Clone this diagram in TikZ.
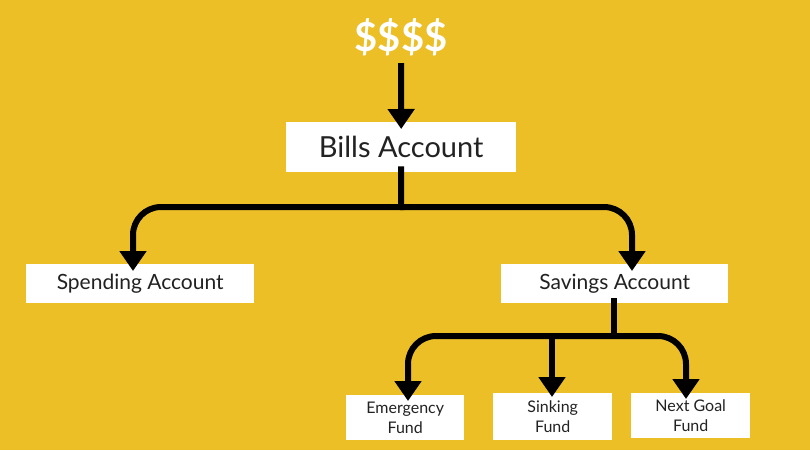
\documentclass[tikz,border=0pt]{standalone}
\usepackage{fontspec}
\setmainfont{Lato}
\usetikzlibrary{arrows.meta}
\definecolor{bg}{HTML}{EDBF27}
\definecolor{ink}{HTML}{222222}
\begin{document}
\begin{tikzpicture}[x=1pt,y=-1pt,
  box/.style={fill=white,text=ink,inner sep=0pt,anchor=north west},
  conn/.style={line width=6pt,black,-{Triangle[width=26pt,length=20pt]},rounded corners=28pt},
  bar/.style={line width=6pt,black}]
\fill[bg] (0,0) rectangle (810,450);
\useasboundingbox (0,0) rectangle (810,450);
\node[text=white,font=\bfseries\fontsize{40}{40}\selectfont] (money) at (401,37) {\$\$\$\$};
\node[box,minimum width=230pt,minimum height=50pt,font=\fontsize{29}{30}\selectfont] (bills) at (286,122) {Bills Account};
\node[box,minimum width=228pt,minimum height=39pt,font=\fontsize{21}{22}\selectfont] (spend) at (26,264) {Spending Account};
\node[box,minimum width=227pt,minimum height=39pt,font=\fontsize{21}{22}\selectfont] (save) at (501,264) {Savings Account};
\node[box,minimum width=118pt,minimum height=45pt,align=center,font=\fontsize{16}{20}\selectfont] (emer) at (346,395) {Emergency\\Fund};
\node[box,minimum width=119pt,minimum height=47pt,align=center,font=\fontsize{16}{20}\selectfont] (sink) at (493,393) {Sinking\\Fund};
\node[box,minimum width=119pt,minimum height=45pt,align=center,font=\fontsize{16}{20}\selectfont] (next) at (631,393) {Next Goal\\Fund};
\coordinate (j1) at (401,207);
\coordinate (j2) at (614,336);
\draw[conn,rounded corners=0pt] (money.south) ++(0,4) -- ([yshift=-7pt]bills.north);
\draw[bar] ([yshift=6pt]bills.south) -- (401,210);
\draw[conn] (j1) -| ([yshift=-7pt]spend.north -| 133,0);
\draw[conn] (j1) -| ([yshift=-7pt]save.north -| 632,0);
\draw[bar] ([yshift=5pt]save.south -| j2) -- (614,339);
\draw[conn] (j2) -| ([yshift=-6pt]emer.north -| 408,0);
\draw[conn,rounded corners=0pt] (552,333) -- ([yshift=-4pt]sink.north -| 552,0);
\draw[conn] (j2) -| ([yshift=-6pt]next.north -| 686,0);
\end{tikzpicture}
\end{document}
